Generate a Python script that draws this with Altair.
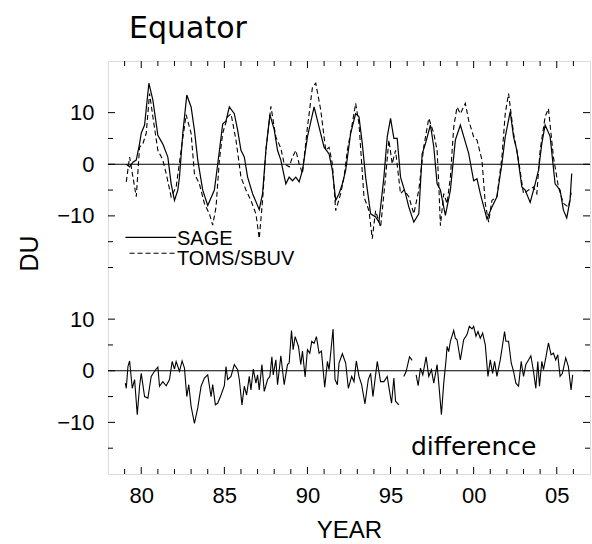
import altair as alt
import pandas as pd

# ---------------- data ----------------
sage_year = [1979.1, 1979.3, 1979.5, 1979.7, 1979.9, 1980.0, 1980.2, 1980.46, 1980.7, 1981.0,
             1981.3, 1981.6, 1981.8, 1982.0, 1982.2, 1982.3, 1982.5, 1982.74, 1983.0, 1983.2,
             1983.4, 1983.7, 1984.0, 1984.4, 1984.6, 1984.9, 1985.1, 1985.3, 1985.6, 1985.8,
             1986.0, 1986.2, 1986.4, 1986.7, 1987.1, 1987.3, 1987.5, 1987.74, 1988.0, 1988.2,
             1988.4, 1988.7, 1988.9, 1989.1, 1989.3, 1989.5, 1989.7, 1990.0, 1990.4, 1990.7,
             1991.0, 1991.3, 1991.5, 1991.7, 1991.9, 1992.1, 1992.3, 1992.6, 1992.9, 1993.1,
             1993.3, 1993.5, 1993.8, 1994.1, 1994.3, 1994.6, 1994.8, 1995.0, 1995.2, 1995.4,
             1995.6, 1995.9, 1996.1, 1996.4, 1996.7, 1996.9, 1997.1, 1997.4, 1997.6, 1997.8,
             1998.0, 1998.2, 1998.3, 1998.6, 1998.9, 1999.2, 1999.4, 1999.7, 2000.0, 2000.2,
             2000.4, 2000.8, 2001.1, 2001.4, 2001.7, 2001.9, 2002.2, 2002.4, 2002.6, 2002.9,
             2003.1, 2003.4, 2003.7, 2003.9, 2004.1, 2004.3, 2004.6, 2004.9, 2005.2, 2005.4,
             2005.6, 2005.8, 2005.9]
sage_du = [0.0, -0.5, 0.4, 0.8, 4.0, 6.0, 7.6, 15.7, 12.4, 5.6,
           3.9, 1.4, -3.8, -7.0, -5.0, -2.5, 6.0, 13.4, 11.1, 6.6,
           0.8, -5.0, -8.0, -5.0, 0.0, 7.8, 8.4, 11.1, 9.8, 6.6,
           2.7, 1.4, -2.5, -5.7, -8.8, -5.7, 2.7, 9.6, 6.7, 2.7,
           0.8, -3.8, -2.5, -3.2, -2.5, -3.4, -1.2, 5.3, 11.1, 7.2,
           3.3, 2.0, -1.2, -7.0, -5.7, -3.8, -1.2, 6.0, 9.8, 9.2,
           4.0, -2.5, -9.6, -10.2, -11.2, -2.5, 5.3, 8.9, 5.0, 5.0,
           -2.5, -5.7, -8.3, -11.2, -9.6, 2.0, 4.0, 7.6, 3.4, -3.8,
           -5.0, -8.3, -9.9, -5.0, 4.7, 7.6, 5.4, 2.1, -3.2, -2.8,
           -5.7, -10.6, -8.3, -6.3, 0.1, 5.3, 10.2, 5.3, 2.7, -4.4,
           -5.0, -7.4, -3.8, -1.2, 4.0, 7.6, 5.4, -3.8, -5.0, -8.9,
           -10.4, -7.0, -1.8]

toms_year = [1979.1, 1979.3, 1979.5, 1979.7, 1979.9, 1980.1, 1980.3, 1980.5, 1980.7, 1981.0,
             1981.3, 1981.5, 1981.8, 1982.1, 1982.4, 1982.7, 1983.0, 1983.2, 1983.5, 1983.8,
             1984.1, 1984.3, 1984.5, 1984.7, 1984.9, 1985.2, 1985.4, 1985.7, 1986.0, 1986.3,
             1986.6, 1986.9, 1987.1, 1987.3, 1987.5, 1987.8, 1988.1, 1988.4, 1988.6, 1988.9,
             1989.1, 1989.3, 1989.5, 1989.7, 1990.0, 1990.3, 1990.5, 1990.8, 1991.1, 1991.3,
             1991.5, 1991.7, 1992.0, 1992.2, 1992.4, 1992.7, 1992.9, 1993.1, 1993.4, 1993.7,
             1993.9, 1994.1, 1994.4, 1994.7, 1994.9, 1995.1, 1995.3, 1995.6, 1995.8, 1996.1,
             1996.4, 1996.7, 1997.0, 1997.3, 1997.6, 1997.8, 1997.9, 1998.0, 1998.2, 1998.4,
             1998.6, 1998.8, 1999.0, 1999.2, 1999.5, 1999.7, 2000.0, 2000.2, 2000.5, 2000.7,
             2000.9, 2001.1, 2001.4, 2001.7, 2001.9, 2002.1, 2002.4, 2002.7, 2003.0, 2003.3,
             2003.6, 2003.8, 2004.0, 2004.3, 2004.5, 2004.8, 2005.1, 2005.4, 2005.7, 2005.9]
toms_du = [-3.4, 1.4, -2.5, -6.3, 3.3, 4.0, 6.0, 13.7, 9.2, 2.7,
           0.8, -1.8, -6.3, -4.4, 2.7, 9.6, 6.0, -1.8, -3.8, -7.6,
           -9.6, -11.8, -8.3, 0.8, 6.0, 9.2, 9.8, 4.7, -2.5, -5.0,
           -7.0, -9.6, -14.4, -7.0, 2.7, 11.2, 5.3, 3.1, 0.1, -0.5,
           1.4, 2.7, 0.1, -1.8, 7.2, 14.9, 15.7, 10.5, 2.7, 3.3,
           0.1, -9.0, -5.7, -2.5, 2.7, 7.9, 11.8, 7.9, -6.3, -9.0,
           -14.4, -9.0, -12.2, -2.5, 4.7, 0.1, 2.7, -5.7, -5.0, -6.3,
           -9.6, -5.0, 3.4, 8.9, 6.0, 2.7, -3.8, -11.9, -5.7, -7.6,
           -2.5, 7.2, 11.1, 9.8, 11.8, 8.5, 5.3, 4.7, 0.8, -7.6,
           -11.2, -7.0, -6.3, 1.4, 9.8, 13.7, 6.0, 0.8, -5.7, -5.0,
           -4.4, -5.7, 2.7, 9.2, 10.8, 1.4, -4.4, -7.6, -8.3, -5.0]

diff_year = [1979.04, 1979.1, 1979.2, 1979.3, 1979.46, 1979.6, 1979.76, 1979.9, 1980.0, 1980.2,
             1980.4, 1980.6, 1980.76, 1980.86, 1981.0, 1981.1, 1981.3, 1981.5, 1981.7, 1981.86,
             1982.0, 1982.1, 1982.3, 1982.46, 1982.6, 1982.74, 1982.86, 1983.0, 1983.2, 1983.4,
             1983.6, 1983.8, 1984.0, 1984.2, 1984.3, 1984.46, 1984.6, 1984.8, 1985.0, 1985.1,
             1985.2, 1985.4, 1985.6, 1985.8, 1985.9, 1986.06, 1986.2, 1986.34, 1986.5, 1986.6,
             1986.74, 1986.9, 1987.0, 1987.1, 1987.26, 1987.4, 1987.6, 1987.74, 1987.86, 1987.94,
             1988.1, 1988.2, 1988.4, 1988.6, 1988.8, 1988.9, 1989.04, 1989.14, 1989.26, 1989.46,
             1989.6, 1989.7, 1989.86, 1990.0, 1990.14, 1990.26, 1990.4, 1990.54, 1990.7, 1990.84,
             1991.04, 1991.2, 1991.3, 1991.54, 1991.66, 1991.8, 1991.9, 1992.1, 1992.3, 1992.46,
             1992.66, 1992.8, 1992.94, 1993.1, 1993.26, 1993.46, 1993.66, 1993.8, 1993.94, 1994.2,
             1994.4, 1994.6, 1994.8, 1994.94, 1995.06, 1995.2, 1995.3, 1995.5,
             1995.8, 1995.94, 1996.14, 1996.3,
             1996.54, 1996.66, 1996.8, 1996.94, 1997.14, 1997.3, 1997.46, 1997.6, 1997.8, 1997.9,
             1998.06, 1998.2, 1998.34, 1998.4, 1998.5, 1998.6, 1998.8, 1998.9, 1999.0, 1999.2,
             1999.4, 1999.6, 1999.74, 1999.9, 2000.0, 2000.14, 2000.26, 2000.4, 2000.54, 2000.7,
             2000.86, 2001.0, 2001.14, 2001.26, 2001.4, 2001.6, 2001.74, 2001.86, 2001.94, 2002.1,
             2002.26, 2002.4, 2002.54, 2002.7, 2002.86, 2003.0, 2003.14, 2003.3, 2003.44, 2003.6,
             2003.74, 2003.86, 2003.96, 2004.1, 2004.2, 2004.34, 2004.5, 2004.66, 2004.8, 2004.94,
             2005.06, 2005.2, 2005.34, 2005.54, 2005.7, 2005.86, 2005.96]
diff_du = [-2.4, -3.4, 0.8, 1.9, -3.4, -1.7, -8.5, -3.0, -0.5, -5.0,
           -5.3, -1.1, -0.3, 0.2, 0.7, -3.0, -2.1, -2.9, -1.7, 1.8,
           0.3, 1.8, -0.1, 1.9, 0.5, -5.0, -2.7, -6.9, -10.2, -7.2,
           -3.0, -1.4, -0.8, -5.0, -2.7, -6.6, -6.3, -4.7, -2.9, 0.8,
           -1.7, -1.1, 1.2, 0.2, -1.7, -6.6, -3.0, -4.7, -1.1, -3.7,
           0.3, -2.4, -0.8, -3.7, 1.2, -4.0, -1.7, -1.1, 2.7, -0.8,
           2.1, -2.7, 2.9, -2.7, 1.2, 1.5, 7.8, 4.1, 6.6, 4.7,
           1.2, 3.8, -1.2, 4.1, 3.4, 5.7, 5.3, 6.6, 3.4, 3.8,
           -3.2, 1.8, 0.2, 8.1, -1.7, -2.7, 1.5, 3.3, 1.5, -3.4,
           -1.1, -2.1, 1.9, -1.1, -2.7, -6.4, -1.7, -0.5, -5.0, 1.8,
           -2.1, -2.1, -1.1, -4.0, -6.3, -1.4, -5.9, -6.6,
           -1.1, -0.1, 2.7, 2.0,
           -0.8, -2.9, 0.5, -0.8, 2.7, -1.1, 0.2, -2.4, 1.2, -2.4,
           -8.5, -2.4, 2.1, 4.7, 3.7, 5.7, 7.8, 6.3, 6.0, 2.1,
           6.0, 7.0, 8.6, 8.1, 8.6, 6.7, 7.6, 6.3, 7.3, 5.0,
           -1.1, 2.1, -0.5, 1.8, -1.1, 2.1, 5.0, 7.6, 5.7, 5.7,
           1.5, -0.1, -2.4, -3.0, 1.8, -1.1, 1.2, 2.1, 2.9, -0.1,
           -3.4, 1.8, -3.0, 1.8, 0.2, 2.5, 5.4, 3.1, 3.4, 2.1,
           3.1, -1.1, -0.5, 2.5, 0.8, -3.7, -0.8]
diff_segment = [0] * 108 + [1] * 4 + [2] * 67

DIFF_OFFSET = 40  # the difference curve is drawn 40 DU below the top panel

legend_labels = ["SAGE", "TOMS/SBUV"]
legend_y = [-14.15, -17.25]
legend_text_y = [-14.4, -18.4]
legend_x0 = [1979.05, 1979.3]
legend_x1 = [1982.1, 1982.1]
legend_text_x = 1982.15

y_major = [10, 0, -10, -30, -40, -50]
y_minor = [5, -5, -15, -20, -35, -45, -55]
x_major = [1980, 1985, 1990, 1995, 2000, 2005]
x_minor = [1979, 1981, 1982, 1983, 1984, 1986, 1987, 1988, 1989, 1991, 1992, 1993, 1994,
           1996, 1997, 1998, 1999, 2001, 2002, 2003, 2004, 2006]

# ---------------- frames ----------------
sage = pd.DataFrame({"year": sage_year, "du": sage_du})
toms = pd.DataFrame({"year": toms_year, "du": toms_du})
diff = pd.DataFrame({"year": diff_year, "du": [d - DIFF_OFFSET for d in diff_du],
                     "seg": diff_segment})
zeros = pd.DataFrame({"v": [0, -DIFF_OFFSET]})
leg_sage = pd.DataFrame({"year": [legend_x0[0], legend_x1[0]], "du": [legend_y[0]] * 2})
leg_toms = pd.DataFrame({"year": [legend_x0[1], legend_x1[1]], "du": [legend_y[1]] * 2})
leg_text = pd.DataFrame({"year": [legend_text_x] * 2, "du": legend_text_y, "label": legend_labels})
diff_text = pd.DataFrame({"year": [2000.0], "du": [-56.3], "label": ["difference"]})
ymaj = pd.DataFrame({"v": y_major})
ymin = pd.DataFrame({"v": y_minor})
xmaj = pd.DataFrame({"t": x_major})
xmin = pd.DataFrame({"t": x_minor})

W, H = 482, 413
LAB = "Liberation Sans"

xscale = alt.Scale(domain=[1978, 2007], nice=False, zero=False)
yscale = alt.Scale(domain=[-60, 20], nice=False, zero=False)

xaxis = alt.Axis(values=x_major, labelExpr="substring(toString(datum.value), 2, 4)",
                 ticks=False, domain=False, grid=False, labelPadding=11,
                 labelFont=LAB, labelFontSize=22, labelColor="black",
                 title="YEAR", titleFont=LAB, titleFontSize=24, titleFontWeight="normal",
                 titleColor="black", titleY=63, titleBaseline="alphabetic")
yaxis = alt.Axis(values=y_major,
                 labelExpr="(datum.value == 10 || datum.value == -30) ? '10' : "
                           "(datum.value == 0 || datum.value == -40) ? '0' : '\u221210'",
                 ticks=False, domain=False, grid=False, labelPadding=14,
                 labelFont=LAB, labelFontSize=22, labelColor="black",
                 title="DU", titleFont=LAB, titleFontSize=25, titleFontWeight="normal",
                 titleColor="black", titleAngle=270, titleX=-71, titleY=192,
                 titleBaseline="alphabetic", titleAlign="center")

X = alt.X("year:Q", scale=xscale, axis=xaxis)
Y = alt.Y("du:Q", scale=yscale, axis=yaxis)

zero_rules = alt.Chart(zeros).mark_rule(color="black", strokeWidth=1.2).encode(
    y=alt.Y("v:Q", scale=yscale, axis=yaxis))

sage_line = alt.Chart(sage).mark_line(color="black", strokeWidth=1.2).encode(x=X, y=Y)
toms_line = alt.Chart(toms).mark_line(color="black", strokeWidth=1.1,
                                      strokeDash=[5, 3]).encode(x=X, y=Y)
diff_line = alt.Chart(diff).mark_line(color="black", strokeWidth=1.1).encode(
    x=X, y=Y, detail="seg:N")

leg1 = alt.Chart(leg_sage).mark_line(color="black", strokeWidth=1.2).encode(x=X, y=Y)
leg2 = alt.Chart(leg_toms).mark_line(color="black", strokeWidth=1.1,
                                     strokeDash=[5, 3]).encode(x=X, y=Y)
leg_t = alt.Chart(leg_text).mark_text(align="left", baseline="middle", font=LAB,
                                      fontSize=20, color="black").encode(
    x=X, y=Y, text="label:N")
diff_t = alt.Chart(diff_text).mark_text(align="center", baseline="alphabetic",
                                        font="DejaVu Sans", fontSize=25,
                                        color="black").encode(x=X, y=Y, text="label:N")

def yticks(df, x0, x1):
    return alt.Chart(df).mark_rule(color="black", strokeWidth=1).encode(
        y=alt.Y("v:Q", scale=yscale, axis=yaxis), x=alt.value(x0), x2=alt.value(x1))

def xticks(df, y0, y1):
    return alt.Chart(df).mark_rule(color="black", strokeWidth=1).encode(
        x=alt.X("t:Q", scale=xscale, axis=xaxis), y=alt.value(y0), y2=alt.value(y1))

ticks = [
    yticks(ymaj, 0, 7), yticks(ymin, 0, 5),
    yticks(ymaj, W, W - 7), yticks(ymin, W, W - 5),
    xticks(xmaj, H, H - 7), xticks(xmin, H, H - 5),
    xticks(xmaj, 0, 7), xticks(xmin, 0, 5),
]

chart = alt.layer(
    zero_rules, sage_line, toms_line, diff_line, leg1, leg2, leg_t, diff_t, *ticks
).properties(
    width=W, height=H,
    autosize=alt.AutoSizeParams(type="none"),
    padding={"left": 108, "top": 61, "right": 2, "bottom": 70},
    title=alt.TitleParams(text="Equator", anchor="start", frame="group", dx=21, dy=31,
                          font="DejaVu Sans", fontSize=30, fontWeight="normal",
                          color="black", baseline="alphabetic", offset=24),
).configure_view(
    stroke="black", strokeWidth=1.2
).configure(background="white")

chart.save("out.html", embed_options={"renderer": "svg", "actions": False})
